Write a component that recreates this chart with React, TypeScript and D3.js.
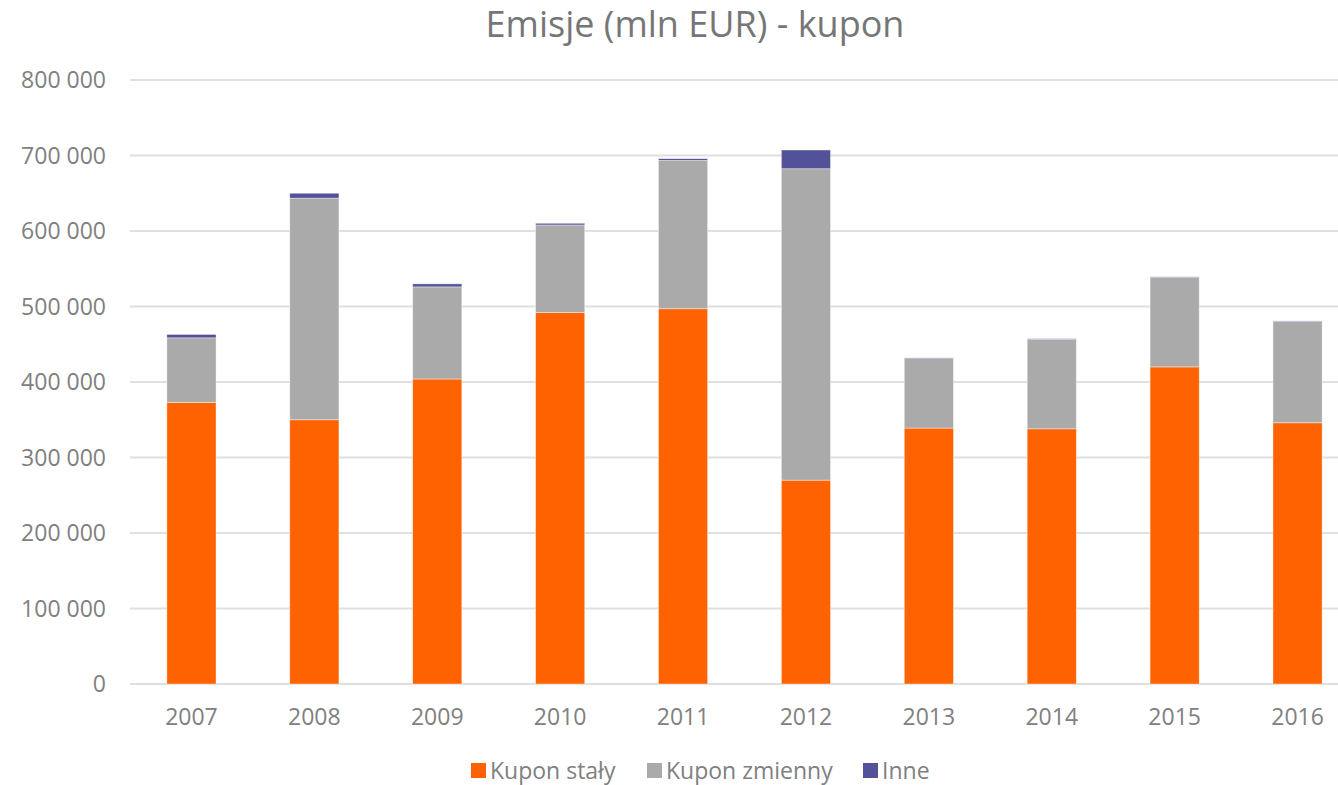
import {useEffect, useRef} from 'react';
import * as d3 from 'd3';

const years = ['2007', '2008', '2009', '2010', '2011', '2012', '2013', '2014', '2015', '2016'];
const kuponStaly = [373000, 350000, 404000, 492000, 497000, 270000, 339000, 338000, 420000, 346000];
const kuponZmienny = [85500, 293500, 122000, 116000, 196500, 412500, 92000, 118500, 118500, 134000];
const inne = [4500, 6500, 4000, 2200, 2300, 24800, 900, 800, 800, 900];
const yTicks = [0, 100000, 200000, 300000, 400000, 500000, 600000, 700000, 800000];
const seriesNames = ['Kupon stały', 'Kupon zmienny', 'Inne'];
const colors = ['#ff6200', '#aaaaaa', '#525199'];

const W = 1338, H = 785;
const FONT = '"Open Sans", "DejaVu Sans", sans-serif';

export default function App(){
	const ref = useRef<SVGSVGElement>(null);

	useEffect(()=>{
		const svg = d3.select(ref.current);
		svg.selectAll('*').remove();

		const x = d3.scaleBand().domain(years).range([130, 1359]).paddingInner(0.6).paddingOuter(0.3);
		const y = d3.scaleLinear().domain([0, 800000]).range([684, 80]);

		const rows = years.map((yr, i)=>({year: yr, a: kuponStaly[i], b: kuponZmienny[i], c: inne[i]}));
		const stack = d3.stack<any>().keys(['a', 'b', 'c'])(rows);

		// title
		svg.append('text').attr('x', 695).attr('y', 37).attr('text-anchor', 'middle')
			.attr('font-family', FONT).attr('font-size', 36).attr('fill', '#767676')
			.text('Emisje (mln EUR) - kupon');

		// grid
		svg.append('g').selectAll('line').data(yTicks).enter().append('line')
			.attr('x1', 130).attr('x2', W).attr('y1', d=>y(d)).attr('y2', d=>y(d))
			.attr('stroke', '#e0e0e0').attr('stroke-width', 2);

		svg.append('g').selectAll('text').data(yTicks).enter().append('text')
			.attr('x', 106).attr('y', d=>y(d)).attr('dy', '0.36em').attr('text-anchor', 'end')
			.attr('font-family', FONT).attr('font-size', 23).attr('fill', '#808080')
			.text(d=>d3.format(',')(d).replace(/,/g, ' '));

		// bars
		stack.forEach((layer, k)=>{
			svg.append('g').selectAll('rect').data(layer).enter().append('rect')
				.attr('x', d=>x(d.data.year)!)
				.attr('width', x.bandwidth())
				.attr('y', d=>y(d[1]))
				.attr('height', d=>y(d[0]) - y(d[1]))
				.attr('fill', colors[k])
				.attr('stroke', 'rgba(255,255,255,0.5)').attr('stroke-width', 0.8);
		});

		// x labels
		svg.append('g').selectAll('text').data(years).enter().append('text')
			.attr('x', d=>x(d)! + x.bandwidth() / 2).attr('y', 725).attr('text-anchor', 'middle')
			.attr('font-family', FONT).attr('font-size', 23).attr('fill', '#808080')
			.text(d=>d);

		// legend
		const legX = [471, 647, 863];
		const leg = svg.append('g').selectAll('g').data(seriesNames).enter().append('g')
			.attr('transform', (d, i)=>`translate(${legX[i]}, 771)`);
		leg.append('rect').attr('x', 0).attr('y', -8).attr('width', 15).attr('height', 15)
			.attr('fill', (d, i)=>colors[i]);
		leg.append('text').attr('x', 19).attr('y', 0).attr('dy', '0.36em')
			.attr('font-family', FONT).attr('font-size', 23).attr('fill', '#808080')
			.text(d=>d);
	});

	return (<svg ref={ref} width={W} height={H} style={{display: 'block', position: 'absolute', left: 0, top: 0, background: '#fff'}}></svg>);
}
